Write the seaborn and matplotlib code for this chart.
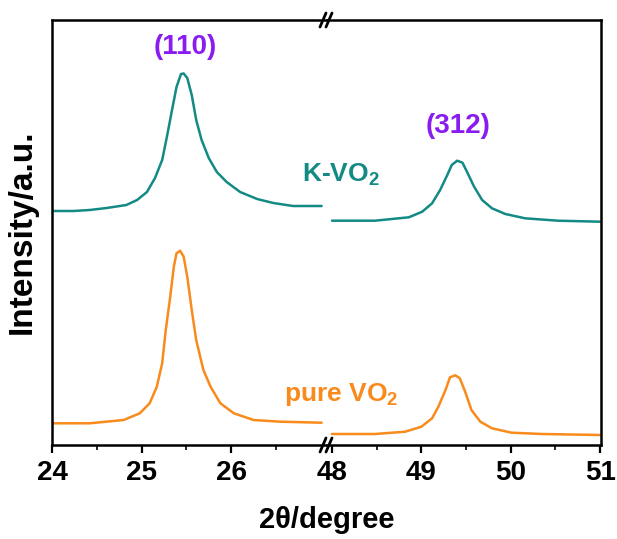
import matplotlib
matplotlib.use("Agg")
import matplotlib.pyplot as plt
import seaborn as sns
import pandas as pd

# ---- data ----
k_left_x = [24.00, 24.24, 24.42, 24.61, 24.83, 24.95, 25.06, 25.15, 25.23, 25.28, 25.34,
            25.39, 25.44, 25.47, 25.51, 25.56, 25.61, 25.67, 25.75, 25.84, 25.95, 26.10,
            26.29, 26.47, 26.69, 27.01]
k_left_y = [234, 234, 235, 237, 240, 245, 253, 267, 285, 307, 335,
            358, 371, 371.5, 367, 350, 325, 305, 287, 273, 263, 253,
            246, 242, 239, 239]
k_right_x = [48.00, 48.48, 48.86, 49.01, 49.12, 49.21, 49.29, 49.34, 49.40, 49.46, 49.51,
             49.59, 49.68, 49.79, 49.94, 50.16, 50.53, 51.00]
k_right_y = [224.3, 224.3, 227.7, 233.3, 241.7, 255, 270, 280, 284.3, 282.3, 273.3,
             258.3, 245, 236.7, 231, 226.7, 224.3, 223.3]

p_left_x = [24.00, 24.42, 24.80, 24.98, 25.09, 25.17, 25.23, 25.27, 25.32, 25.36, 25.39,
            25.43, 25.47, 25.51, 25.56, 25.61, 25.69, 25.77, 25.88, 26.03, 26.25, 26.55, 27.01]
p_left_y = [21.7, 21.7, 25, 31.7, 41.7, 58.3, 81.7, 115, 148.3, 178.3, 191.7,
            194.3, 188.3, 168.3, 135, 105, 75, 58.3, 41.7, 31.7, 25, 23.3, 22.3]
p_right_x = [48.00, 48.48, 48.82, 49.00, 49.12, 49.19, 49.27, 49.32, 49.38, 49.43, 49.49,
             49.56, 49.66, 49.79, 50.01, 50.35, 51.00]
p_right_y = [11, 11, 13.3, 18.3, 26.7, 38.3, 55, 67.7, 69.7, 66.7, 53.3,
             35, 23.3, 16.7, 12.3, 11, 10]

left_ticks = [24, 25, 26]
right_ticks = [48, 49, 50, 51]

TEAL = "#138a84"
ORANGE = "#f98a1c"
PURPLE = "#8a1cf0"

sns.set_theme(style="white")
plt.rcParams["font.family"] = ["Liberation Sans", "DejaVu Sans"]
plt.rcParams["font.weight"] = "bold"
plt.rcParams["text.color"] = "black"
plt.rcParams["mathtext.fontset"] = "custom"
plt.rcParams["mathtext.bf"] = "Liberation Sans:bold"
plt.rcParams["mathtext.rm"] = "Liberation Sans:bold"

fig = plt.figure(figsize=(6.17, 5.39), dpi=100)
W, H = 617, 539
L, R, T, B = 52, 601, 20, 445
brk = 327
axL = fig.add_axes([L / W, 1 - B / H, (brk - L) / W, (B - T) / H])
axR = fig.add_axes([brk / W, 1 - B / H, (R - brk) / W, (B - T) / H], sharey=axL)

dfs = {
    "kL": pd.DataFrame({"x": k_left_x, "y": k_left_y}),
    "kR": pd.DataFrame({"x": k_right_x, "y": k_right_y}),
    "pL": pd.DataFrame({"x": p_left_x, "y": p_left_y}),
    "pR": pd.DataFrame({"x": p_right_x, "y": p_right_y}),
}
sns.lineplot(data=dfs["kL"], x="x", y="y", ax=axL, color=TEAL, lw=1.8, sort=False)
sns.lineplot(data=dfs["pL"], x="x", y="y", ax=axL, color=ORANGE, lw=1.8, sort=False)
sns.lineplot(data=dfs["kR"], x="x", y="y", ax=axR, color=TEAL, lw=1.8, sort=False)
sns.lineplot(data=dfs["pR"], x="x", y="y", ax=axR, color=ORANGE, lw=1.8, sort=False)

axL.set_xlim(24, 27.07)
axR.set_xlim(47.944, 51.01)
axL.set_ylim(0, 425)

for ax in (axL, axR):
    ax.set_xlabel("")
    ax.set_ylabel("")
    ax.set_yticks([])
    for s in ax.spines.values():
        s.set_color("black")
        s.set_linewidth(1.8)
    ax.tick_params(axis="x", direction="out", length=6, width=1.6, colors="black",
                   pad=5, bottom=True, top=False)
    ax.tick_params(axis="x", which="minor", direction="out", length=3.5, width=1.4,
                   bottom=True, top=False)
axL.spines["right"].set_visible(False)
axR.spines["left"].set_visible(False)
axL.set_xticks(left_ticks)
axL.set_xticks([24.5, 25.5, 26.5], minor=True)
axR.set_xticks(right_ticks)
axR.set_xticks([48.5, 49.5, 50.5], minor=True)
axL.set_xticklabels([str(t) for t in left_ticks], fontweight="bold", fontsize=20, color="black")
axR.set_xticklabels([str(t) for t in right_ticks], fontweight="bold", fontsize=20, color="black")

# break marks
for yy in (1 - B / H, 1 - T / H):
    for dx in (-4, 2):
        x0 = (brk + dx - 3) / W
        x1 = (brk + dx + 3) / W
        fig.add_artist(plt.Line2D([x0, x1], [yy - 7 / H, yy + 7 / H],
                                  color="black", lw=2.0, transform=fig.transFigure))

# labels
fig.text(327 / W, 1 - 520 / H, "2θ/degree", ha="center", va="center",
         fontsize=21, fontweight="bold", color="black")
fig.text(22 / W, 1 - 232 / H, "Intensity/a.u.", ha="center", va="center",
         rotation=90, fontsize=24, fontweight="bold", color="black")

fig.text(185 / W, 1 - 47 / H, "(110)", ha="center", va="center", color=PURPLE,
         fontsize=20, fontweight="bold")
fig.text(458 / W, 1 - 126 / H, "(312)", ha="center", va="center", color=PURPLE,
         fontsize=20, fontweight="bold")
fig.text(341 / W, 1 - 175 / H, r"K-VO$_\mathbf{2}$", ha="center", va="center", color=TEAL,
         fontsize=19, fontweight="bold")
fig.text(341 / W, 1 - 395 / H, r"pure VO$_\mathbf{2}$", ha="center", va="center", color=ORANGE,
         fontsize=19, fontweight="bold")

fig.savefig("out.png", dpi=100)
